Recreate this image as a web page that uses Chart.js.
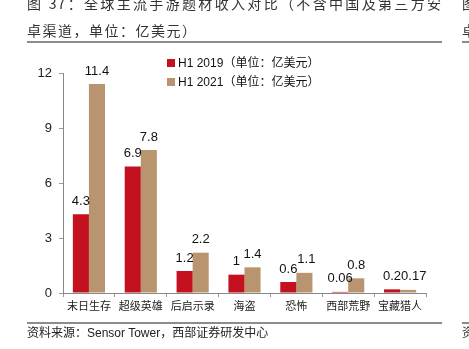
<!DOCTYPE html>
<html>
  <head>
    <title>全球主流手游题材收入对比</title>
    <script src="https://cdn.jsdelivr.net/npm/chart.js"></script>
    <style>
      body {
        margin: 0;
        width: 469px;
        height: 349px;
        overflow: hidden;
        background: white;
        position: relative;
        font-family: "Noto Sans CJK SC", sans-serif;
        color: #333;
      }
      .title {
        position: absolute;
        left: 27px;
        width: 415px;
        font-size: 14px;
        letter-spacing: 1px;
        white-space: nowrap;
      }
      .t1 { top: -7px; text-align: justify; text-align-last: justify; }
      .t2 { top: 20px; letter-spacing: 1.5px; }
      .rule {
        position: absolute;
        left: 27px;
        width: 415px;
        height: 2px;
        background: #8c8c8c;
      }
      .source {
        position: absolute;
        left: 27px;
        top: 323px;
        font-size: 12px;
        color: #222;
      }
      .source span { font-family: "Liberation Sans", Arial, sans-serif; }
      .edge {
        position: absolute;
        left: 462px;
        font-size: 14px;
        color: #333;
      }
      .legend {
        position: absolute;
        left: 167px;
        top: 53px;
        font-size: 12px;
        line-height: 17px;
        color: #111;
      }
      .legend i {
        display: inline-block;
        width: 8px;
        height: 8px;
        margin-right: 3px;
      }
      .legend b { font-weight: normal; font-family: "Liberation Sans", Arial, sans-serif; }
      #wrap { position: absolute; left: 0; top: 0; }
    </style>
  </head>
  <body>
    <div id="wrap"><canvas id="genreChart" width="469" height="349"></canvas></div>
    <div class="title t1">图 37：全球主流手游题材收入对比（不含中国及第三方安</div>
    <div class="title t2">卓渠道，单位：亿美元）</div>
    <div class="rule" style="top: 41px"></div>
    <div class="rule" style="top: 322px"></div>
    <div class="edge" style="top: -7px">图</div>
    <div class="edge" style="top: 20px">卓</div>
    <div class="rule" style="top: 41px; left: 462px; width: 10px"></div>
    <div class="rule" style="top: 322px; left: 462px; width: 10px"></div>
    <div class="edge" style="top: 323px; font-size: 12px">资</div>
    <div class="source">资料来源：<span>Sensor Tower</span>，西部证券研发中心</div>
    <div class="legend" id="legend"></div>

    <script>
      const categories = ["末日生存", "超级英雄", "后启示录", "海盗", "恐怖", "西部荒野", "宝藏猎人"];
      const seriesNames = ["H1 2019（单位：亿美元）", "H1 2021（单位：亿美元）"];
      const h1_2019 = [4.3, 6.9, 1.2, 1, 0.6, 0.06, 0.2];
      const h1_2021 = [11.4, 7.8, 2.2, 1.4, 1.1, 0.8, 0.17];
      const yTicks = [0, 3, 6, 9, 12];
      const colors = ["#c3111f", "#b9956f"];

      // legend as html, chart legend is turned off
      document.getElementById("legend").innerHTML = seriesNames
        .map((n, i) => {
          const parts = n.split("（");
          return `<div><i style="background:${colors[i]}"></i><b>${parts[0]}</b>（${parts[1]}</div>`;
        })
        .join("");

      // value labels above bars; second label is pushed right if it runs into the first
      const valueLabels = {
        id: "valueLabels",
        afterDatasetsDraw(chart) {
          const c = chart.ctx;
          c.save();
          c.font = "13px 'Liberation Sans', Arial, sans-serif";
          c.fillStyle = "#111";
          c.textAlign = "center";
          c.textBaseline = "middle";
          const bars0 = chart.getDatasetMeta(0).data;
          const bars1 = chart.getDatasetMeta(1).data;
          categories.forEach((cat, j) => {
            const t0 = String(h1_2019[j]);
            const t1 = String(h1_2021[j]);
            const w0 = c.measureText(t0).width;
            const w1 = c.measureText(t1).width;
            let x1 = bars1[j].x;
            const right0 = bars0[j].x + w0 / 2;
            const y0 = bars0[j].y - 13;
            const y1 = bars1[j].y - 13;
            if (Math.abs(y0 - y1) < 13 && x1 - w1 / 2 < right0) x1 = right0 + w1 / 2;
            c.fillText(t0, bars0[j].x, y0);
            c.fillText(t1, x1, y1);
          });
          c.restore();
        },
      };

      Chart.defaults.font.family = "'Liberation Sans', Arial, sans-serif";

      new Chart(document.getElementById("genreChart"), {
        type: "bar",
        data: {
          labels: categories,
          datasets: [
            { label: seriesNames[0], data: h1_2019, backgroundColor: colors[0] },
            { label: seriesNames[1], data: h1_2021, backgroundColor: colors[1] },
          ],
        },
        options: {
          responsive: false,
          animation: false,
          categoryPercentage: 0.62,
          barPercentage: 1,
          layout: { padding: { left: 0, right: 43, top: 73, bottom: 30 } },
          plugins: { legend: { display: false }, tooltip: { enabled: false } },
          scales: {
            x: {
              afterFit(s) { s.height = 26; },
              grid: { offset: true, drawOnChartArea: false, tickLength: 4, color: "#999" },
              border: { color: "#888" },
              ticks: {
                font: { family: "'Noto Sans CJK SC', sans-serif", size: 11 },
                color: "#222",
                padding: 2,
              },
            },
            y: {
              min: 0,
              max: 12,
              afterFit(s) { s.width = 63; },
              afterBuildTicks(s) { s.ticks = yTicks.map((v) => ({ value: v })); },
              grid: { drawOnChartArea: false, tickLength: 4, color: "#999" },
              border: { color: "#888" },
              ticks: { font: { size: 13 }, color: "#222", padding: 7 },
            },
          },
        },
        plugins: [valueLabels],
      });
    </script>
  </body>
</html>
